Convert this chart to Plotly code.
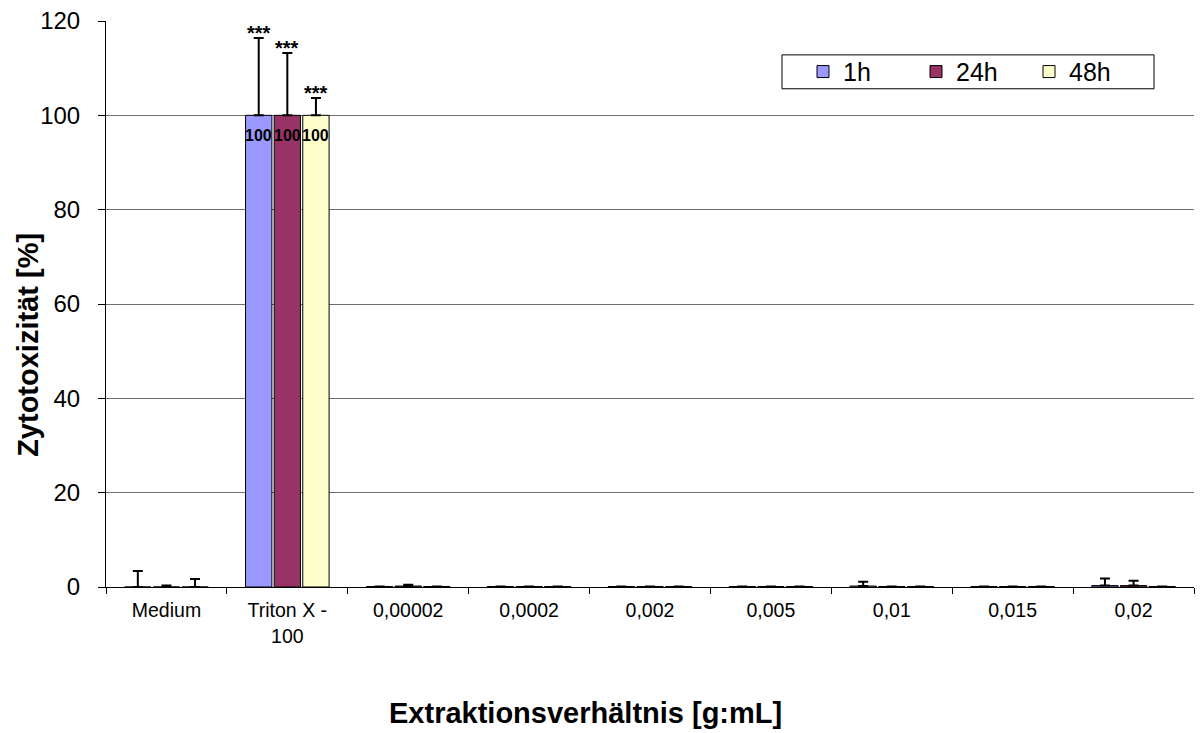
import plotly.graph_objects as go

categories = ["Medium", "Triton X -<br>100", "0,00002", "0,0002", "0,002",
              "0,005", "0,01", "0,015", "0,02"]
series_names = ["1h", "24h", "48h"]
colors = ["#9999FF", "#993366", "#FFFFCC"]

values_1h = [0.0, 100, 0.1, 0.1, 0.1, 0.1, 0.2, 0.1, 0.3]
values_24h = [0.0, 100, 0.2, 0.1, 0.1, 0.1, 0.1, 0.1, 0.3]
values_48h = [0.0, 100, 0.1, 0.1, 0.1, 0.1, 0.1, 0.1, 0.1]

err_1h = [3.4, 16.4, 0.0, 0.0, 0.0, 0.0, 0.9, 0.0, 1.5]
err_24h = [0.3, 13.2, 0.3, 0.0, 0.0, 0.0, 0.0, 0.0, 1.0]
err_48h = [1.7, 3.7, 0.0, 0.0, 0.0, 0.0, 0.0, 0.0, 0.0]

significance = ["", "***", "", "", "", "", "", "", ""]
value_labels = ["", "100", "", "", "", "", "", "", ""]

values = [values_1h, values_24h, values_48h]
errors = [err_1h, err_24h, err_48h]

FONT = "Liberation Sans, Arial, sans-serif"
W, H = 1201, 733
M_L, M_R, M_T, M_B = 106, 7, 19, 146
BARGAP, GROUPGAP = 0.29, 0.08
PW, PH = W - M_L - M_R, H - M_T - M_B

fig = go.Figure()
for name, col, v, e in zip(series_names, colors, values, errors):
    fig.add_trace(go.Bar(
        x=categories, y=v, name=name,
        marker=dict(color=col, line=dict(color="black", width=1)),
        error_y=dict(type="data", array=e, arrayminus=[0] * len(e),
                     symmetric=False, color="black", thickness=2, width=5),
        cliponaxis=False,
    ))

# pixel offset of each series inside a category group
cat_w = PW / len(categories)
slot = cat_w * (1 - BARGAP) / len(series_names)
bar_offsets = [(k - (len(series_names) - 1) / 2) * slot for k in range(len(series_names))]

annotations = []
for k, (v, e) in enumerate(zip(values, errors)):
    for i, s in enumerate(significance):
        if s:
            annotations.append(dict(
                x=categories[i], y=v[i] + e[i], xref="x", yref="y",
                text=s, showarrow=False, xshift=bar_offsets[k],
                yanchor="bottom", yshift=-8,
                font=dict(family=FONT, size=20, color="black", weight="bold")))
        if value_labels[i]:
            annotations.append(dict(
                x=categories[i], y=v[i], xref="x", yref="y",
                text=value_labels[i], showarrow=False, xshift=bar_offsets[k],
                yanchor="top", yshift=-10,
                font=dict(family=FONT, size=16, color="black", weight="bold")))

annotations.append(dict(
    x=(585 - M_L) / PW, y=-(713 - (H - M_B)) / PH,
    xref="paper", yref="paper",
    text="<b>Extraktionsverhältnis [g:mL]</b>", showarrow=False,
    xanchor="center", yanchor="middle",
    font=dict(family=FONT, size=29, color="black")))
annotations.append(dict(
    x=-(M_L - 28) / PW, y=((H - M_B) - 344) / PH,
    xref="paper", yref="paper",
    text="<b>Zytotoxizität [%]</b>", showarrow=False, textangle=-90,
    xanchor="center", yanchor="middle",
    font=dict(family=FONT, size=29, color="black")))

# legend frame
shapes = [dict(type="rect", xref="paper", yref="paper",
               x0=(782 - M_L) / PW, x1=(1154 - M_L) / PW,
               y0=((H - M_B) - 87) / PH, y1=((H - M_B) - 53) / PH,
               line=dict(color="black", width=1), fillcolor="white", layer="below")]

fig.update_layout(
    width=W, height=H,
    margin=dict(l=M_L, r=M_R, t=M_T, b=M_B),
    paper_bgcolor="white", plot_bgcolor="white",
    barmode="group", bargap=BARGAP, bargroupgap=GROUPGAP,
    font=dict(family=FONT, color="black"),
    annotations=annotations, shapes=shapes,
    showlegend=True,
    legend=dict(
        orientation="h", x=(803 - M_L) / PW, y=((H - M_B) - 70) / PH,
        xanchor="left", yanchor="middle",
        borderwidth=0, bgcolor="rgba(0,0,0,0)",
        font=dict(family=FONT, size=25, color="black"),
        entrywidth=68, traceorder="normal",
    ),
    xaxis=dict(
        type="category", showline=True, linecolor="black", linewidth=1,
        ticks="outside", tickson="boundaries", ticklen=6, tickcolor="black",
        tickfont=dict(family=FONT, size=19.5, color="black"),
        ticklabelstandoff=6,
        showgrid=False, zeroline=False,
    ),
    yaxis=dict(
        range=[0, 120], dtick=20, showline=True, linecolor="black", linewidth=1,
        ticks="outside", ticklen=7, tickcolor="black",
        tickfont=dict(family=FONT, size=24, color="black"),
        ticklabelstandoff=13,
        showgrid=True, gridcolor="#6f6f6f", gridwidth=1, zeroline=False,
    ),
)

fig.write_html("out.html")
